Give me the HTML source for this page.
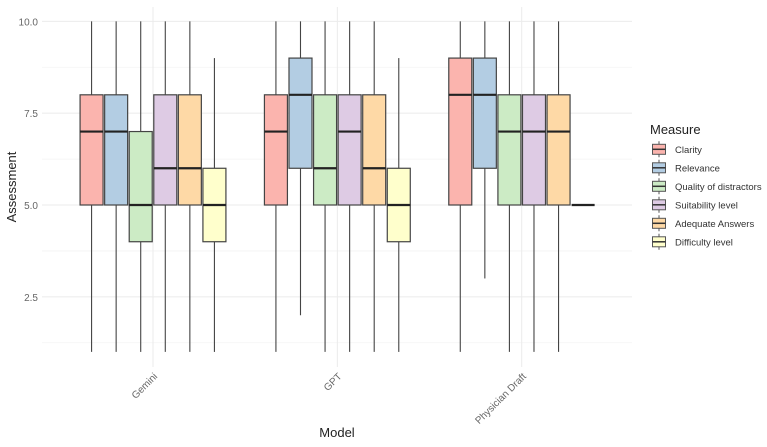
<!DOCTYPE html>
<html><head><meta charset="utf-8"><style>
body{margin:0;background:#fff;font-family:"Liberation Sans",sans-serif;}
svg text{font-family:"Liberation Sans",sans-serif;}
</style></head><body>
<svg id="chart" width="767" height="442" viewBox="0 0 767 442">
<g id="grid"></g>
<g id="boxes"></g>
<g id="axes"></g>
<g id="legend"></g>
<text x="16" y="187" transform="rotate(-90 16 187)" font-size="13" fill="#222" text-anchor="middle">Assessment</text>
<text x="337" y="437" font-size="13" fill="#222" text-anchor="middle">Model</text>
</svg>
<script>
const models = ["Gemini","GPT","Physician Draft"];
const measures = ["Clarity","Relevance","Quality of distractors","Suitability level","Adequate  Answers","Difficulty level"];
const colors = ["#FBB4AE","#B3CDE3","#CCEBC5","#DECBE4","#FED9A6","#FFFFCC"];
const yTicks = [2.5,5.0,7.5,10.0];
const yMinor = [1.25,3.75,6.25,8.75];
// [min, q1, median, q3, max] per model, per measure
const geminiStats = [[1,5,7,8,10],[1,5,7,8,10],[1,4,5,7,10],[1,5,6,8,10],[1,5,6,8,10],[1,4,5,6,9]];
const gptStats = [[1,5,7,8,10],[2,6,8,9,10],[1,5,6,8,10],[1,5,7,8,10],[1,5,6,8,10],[1,4,5,6,9]];
const physicianStats = [[1,5,8,9,10],[3,6,8,9,10],[1,5,7,8,10],[1,5,7,8,10],[1,5,7,8,10],[5,5,5,5,5]];
const stats = [geminiStats, gptStats, physicianStats];

const NS="http://www.w3.org/2000/svg";
const X0=42, X1=632, YT=7, YB=367;
function y(v){return 205-(v-5)*36.73;}
function xc(i){return 153+i*184.35;}
const step=24.57, bw=23;
function mk(tag,attrs,parent){const e=document.createElementNS(NS,tag);for(const k in attrs)e.setAttribute(k,attrs[k]);parent.appendChild(e);return e;}
const grid=document.getElementById('grid'), boxes=document.getElementById('boxes'), axes=document.getElementById('axes'), legend=document.getElementById('legend');
yMinor.forEach(v=>{const l=mk('line',{x1:X0,x2:X1,y1:y(v),y2:y(v),stroke:'#f3f3f3','stroke-width':0.8},grid);

});
yTicks.forEach(v=>{const l=mk('line',{x1:X0,x2:X1,y1:y(v),y2:y(v),stroke:'#ebebeb','stroke-width':1},grid);


const t=mk('text',{x:38,y:y(v)+4,'font-size':10,fill:'#666','text-anchor':'end'},axes);t.textContent=v.toFixed(1);

});
models.forEach((m,i)=>{const l=mk('line',{x1:xc(i),x2:xc(i),y1:YT,y2:YB,stroke:'#ebebeb','stroke-width':1},grid);


const t=mk('text',{x:xc(i)+5,y:377,'font-size':10,fill:'#666','text-anchor':'end',transform:`rotate(-45 ${xc(i)+5} 377)`},axes);t.textContent=m;

});
stats.forEach((ms,i)=>{ms.forEach((s,j)=>{
 const cx=xc(i)+(j-2.5)*step;
 const g=mk('g',{},boxes);
 
 
 mk('line',{x1:cx,x2:cx,y1:y(s[4]),y2:y(s[3]),stroke:'#444','stroke-width':1.1},g);
 mk('line',{x1:cx,x2:cx,y1:y(s[1]),y2:y(s[0]),stroke:'#444','stroke-width':1.1},g);
 if(s[3]>s[1]) mk('rect',{x:cx-bw/2,y:y(s[3]),width:bw,height:y(s[1])-y(s[3]),fill:colors[j],stroke:'#444','stroke-width':1.2},g);
 mk('line',{x1:cx-bw/2,x2:cx+bw/2,y1:y(s[2]),y2:y(s[2]),stroke:'#222','stroke-width':2.2},g);
});});
const title=mk('text',{x:650,y:134,'font-size':13,fill:'#222'},legend);title.textContent='Measure';


measures.forEach((m,j)=>{const cy=149.3+j*18.5;
 const g=mk('g',{},legend);
 
 
 mk('line',{x1:659,x2:659,y1:cy-8,y2:cy+8,stroke:'#555','stroke-width':1},g);
 mk('rect',{x:652.5,y:cy-5,width:13,height:10,fill:colors[j],stroke:'#555','stroke-width':1},g);
 mk('line',{x1:652.5,x2:665.5,y1:cy,y2:cy,stroke:'#333','stroke-width':1.5},g);
 const t=mk('text',{x:675,y:cy+3.5,'font-size':9.5,fill:'#333'},g);t.textContent=m;});
</script>
</body></html>
